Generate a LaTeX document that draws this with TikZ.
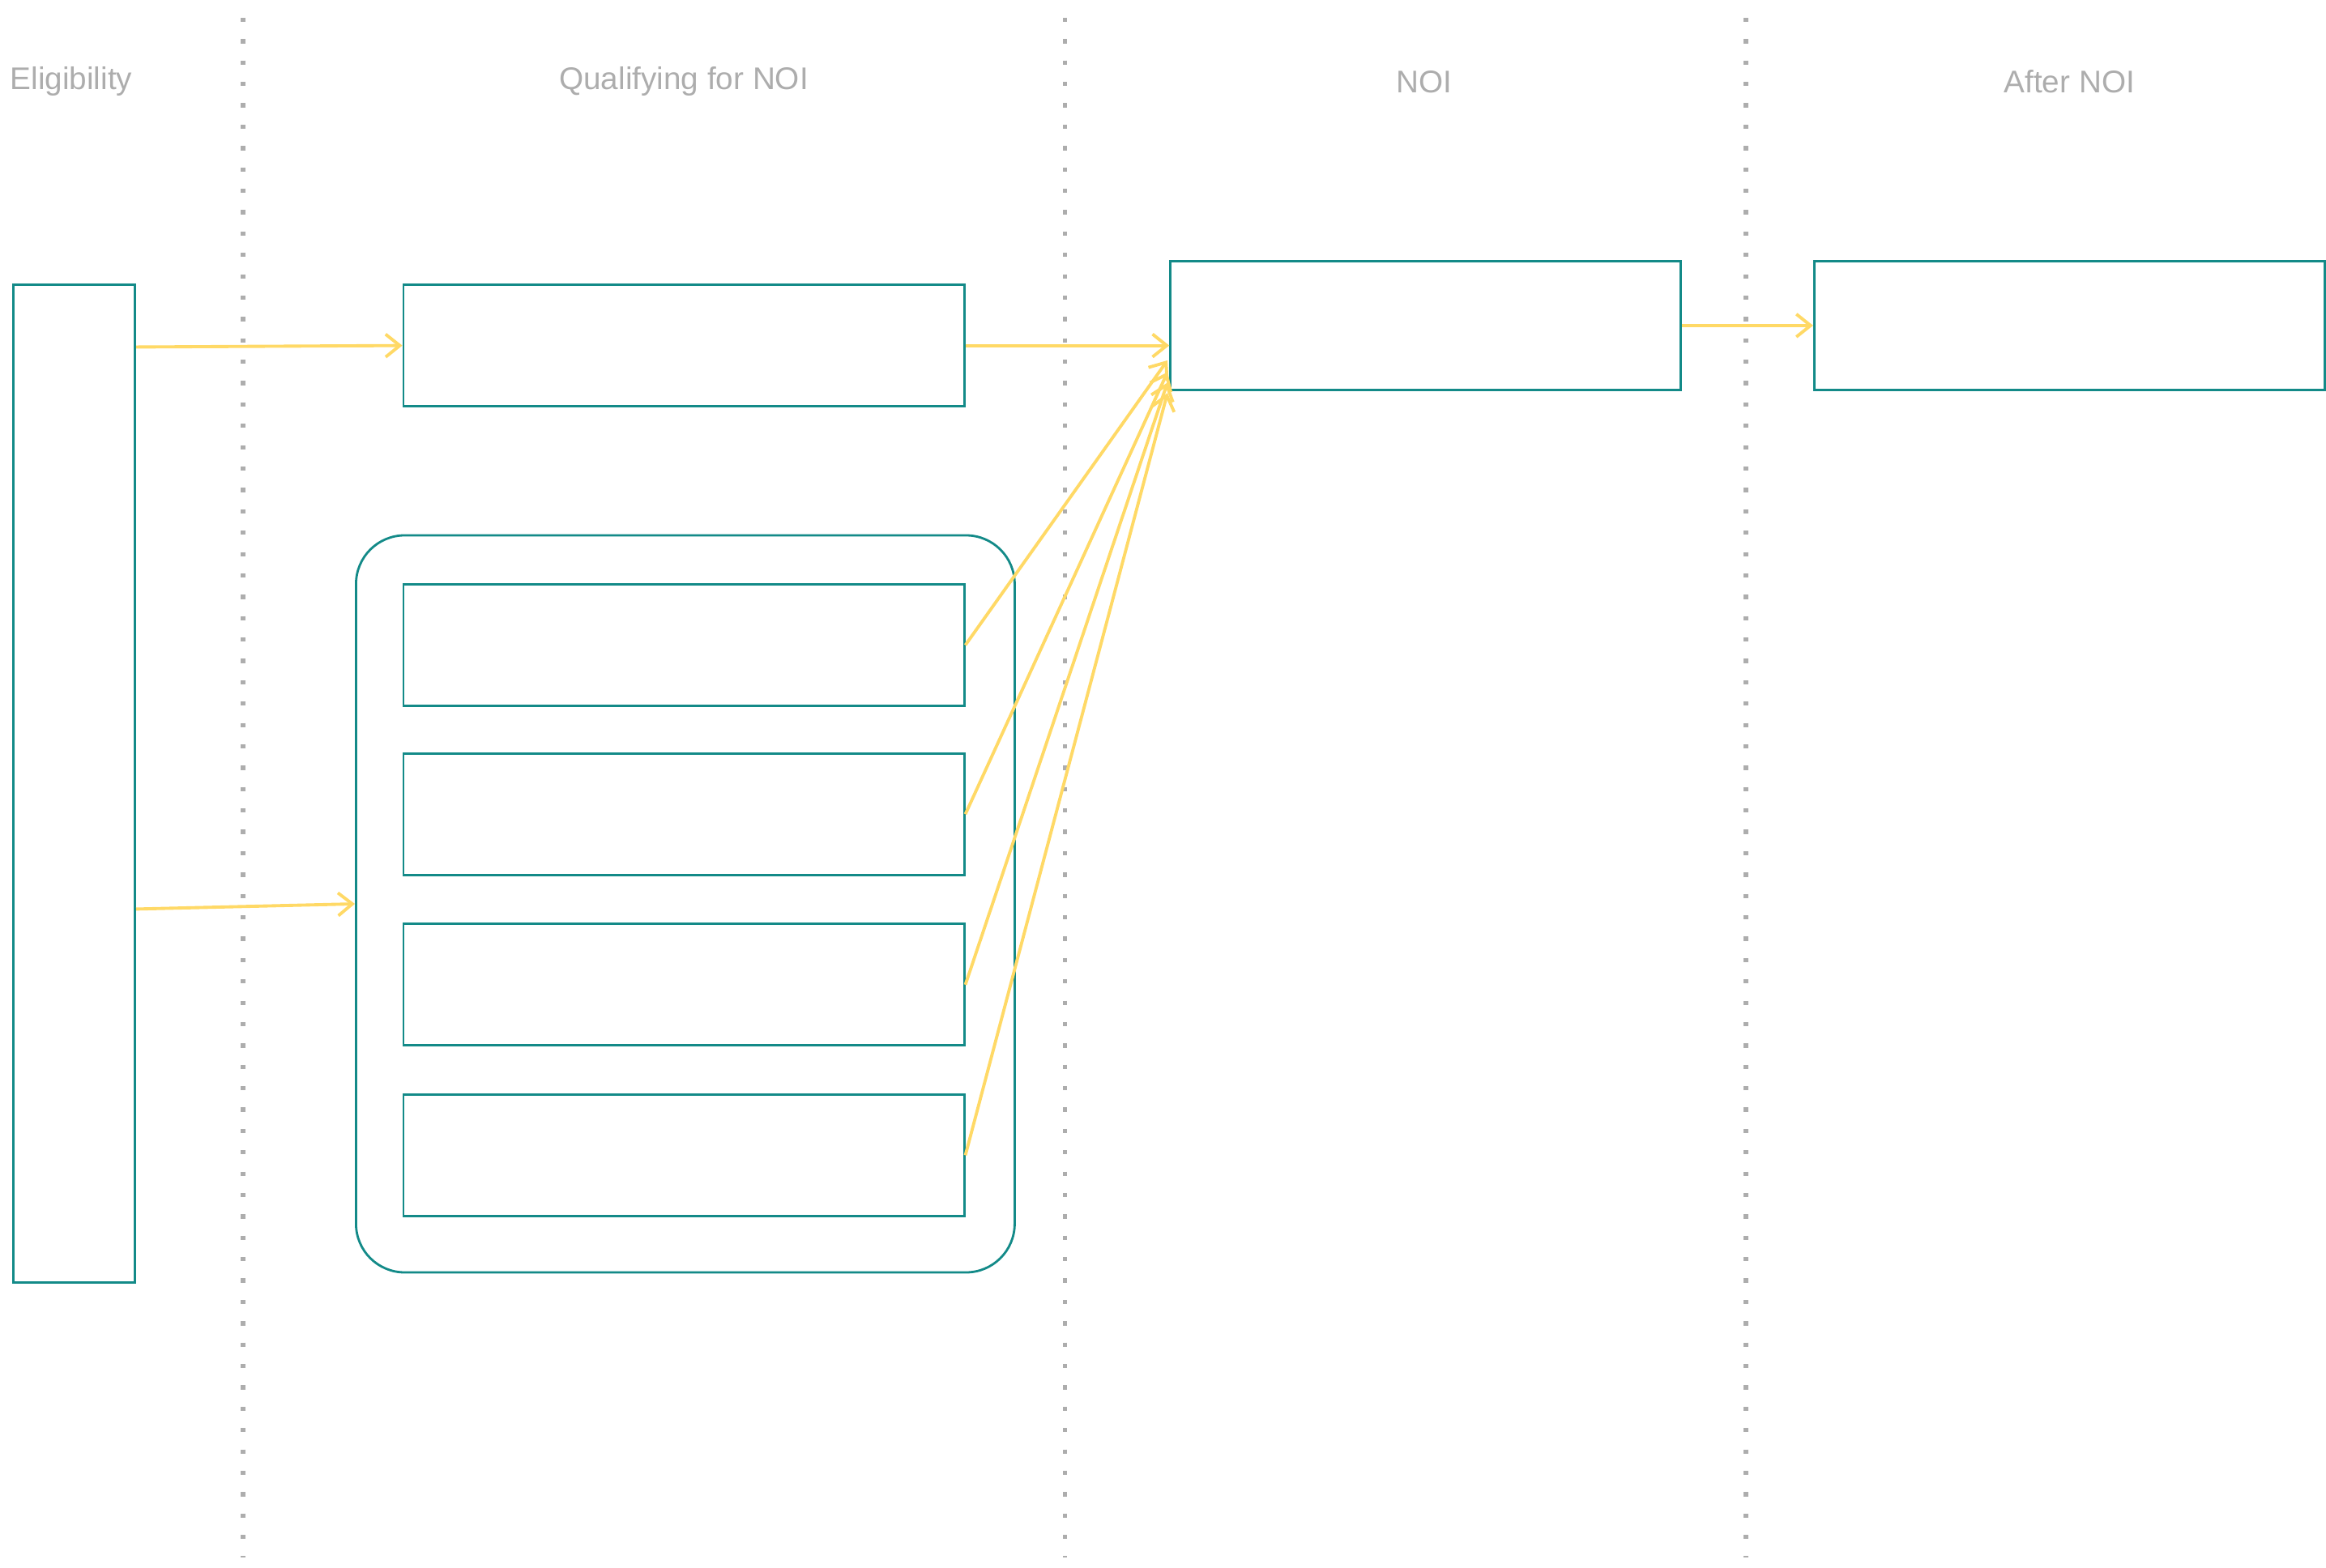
\documentclass[tikz,border=0pt]{standalone}
\usepackage{fontspec}
\setmainfont{Liberation Sans}
\usetikzlibrary{arrows.meta}
\definecolor{teal}{HTML}{138A88}
\definecolor{ylw}{HTML}{FFD966}
\definecolor{gr}{HTML}{ADADAD}
\begin{document}
\begin{tikzpicture}[x=0.0183cm,y=-0.0183cm,
  box/.style={draw=teal,line width=0.8pt},
  arr/.style={draw=ylw,line width=1.1pt,-{Straight Barb[length=5pt,width=8pt]}},
  sep/.style={draw=gr,line width=1.6pt,dash pattern=on 1.5pt off 6pt},
  hdr/.style={text=gr,font=\fontsize{11}{13}\selectfont}]
\useasboundingbox (0,0) rectangle (1568,1057);
\draw[sep] (164,12) -- (164,1050);
\draw[sep] (718,12) -- (718,1050);
\draw[sep] (1177,12) -- (1177,1050);
\node[hdr] (h1) at (48,55) {Eligibility};
\node[hdr] (h2) at (461,55) {Qualifying for NOI};
\node[hdr] (h3) at (960,55) {NOI};
\node[hdr] (h4) at (1395,55) {After NOI};
\path (9,192) coordinate (e1) (91,865) coordinate (e2);
\node[box,fit/.style={},minimum width=82*0.0183cm,minimum height=673*0.0183cm,inner sep=0] (elig) at (50,528.5) {};
\node[box,minimum width=378*0.0183cm,minimum height=82*0.0183cm,inner sep=0] (q1) at (461,233) {};
\node[box,rounded corners=0.6cm,minimum width=444*0.0183cm,minimum height=497*0.0183cm,inner sep=0] (cont) at (462,609.5) {};
\node[box,minimum width=378*0.0183cm,minimum height=82*0.0183cm,inner sep=0] (i1) at (461,435) {};
\node[box,minimum width=378*0.0183cm,minimum height=82*0.0183cm,inner sep=0] (i2) at (461,549) {};
\node[box,minimum width=378*0.0183cm,minimum height=82*0.0183cm,inner sep=0] (i3) at (461,664) {};
\node[box,minimum width=378*0.0183cm,minimum height=82*0.0183cm,inner sep=0] (i4) at (461,779) {};
\node[box,minimum width=344*0.0183cm,minimum height=87*0.0183cm,inner sep=0] (noi) at (961,219.5) {};
\node[box,minimum width=344*0.0183cm,minimum height=87*0.0183cm,inner sep=0] (aft) at (1395,219.5) {};
\coordinate (n1) at (787,243);
\coordinate (n2) at (787,251);
\coordinate (n3) at (787,258);
\coordinate (n4) at (787,265);
\draw[arr] (elig.east |- 0,234) -- (q1.west);
\draw[arr] (elig.east |- 0,613) -- (cont.west);
\draw[arr] (q1.east) -- (q1.east -| noi.west);
\draw[arr] (i1.east) -- (n1);
\draw[arr] (i2.east) -- (n2);
\draw[arr] (i3.east) -- (n3);
\draw[arr] (i4.east) -- (n4);
\draw[arr] (noi.east) -- (aft.west);
\end{tikzpicture}
\end{document}
